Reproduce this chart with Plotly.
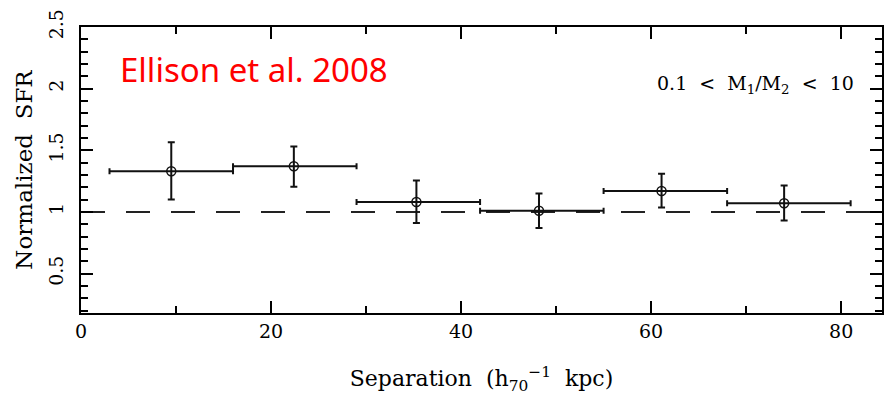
import plotly.graph_objects as go

# Data
sep_center = [9.5, 22.4, 35.3, 48.2, 61.1, 74.0]
bin_low = [3.0, 16.0, 29.0, 42.0, 55.0, 68.0]
bin_high = [16.0, 29.0, 42.0, 55.0, 68.0, 81.0]
sfr = [1.33, 1.37, 1.08, 1.01, 1.17, 1.07]
sfr_err_up = [0.235, 0.16, 0.175, 0.14, 0.14, 0.145]
sfr_err_down = [0.23, 0.165, 0.17, 0.14, 0.135, 0.14]
ref_level = [1.0, 1.0]
ref_x = [0, 84.3]

err_x_plus = [h - c for h, c in zip(bin_high, sep_center)]
err_x_minus = [c - l for c, l in zip(sep_center, bin_low)]

TICKFONT = "DejaVu Serif, Liberation Serif, serif"
TITLEFONT = "DejaVu Serif, Liberation Serif, serif"
NB = "\u00a0"

fig = go.Figure()
fig.add_trace(go.Scatter(
    x=ref_x, y=ref_level, mode="lines",
    line=dict(color="#222", width=2, dash="24px,21px"),
    hoverinfo="skip", showlegend=False))
fig.add_trace(go.Scatter(
    x=sep_center, y=sfr, mode="markers",
    marker=dict(symbol="circle-open", size=9, color="#111", line=dict(width=1.5)),
    error_x=dict(type="data", symmetric=False, array=err_x_plus, arrayminus=err_x_minus,
                 color="#111", thickness=2, width=3),
    error_y=dict(type="data", symmetric=False, array=sfr_err_up, arrayminus=sfr_err_down,
                 color="#111", thickness=2, width=3.5),
    showlegend=False))

fig.add_annotation(text="Ellison et al. 2008", xref="paper", yref="paper",
                   x=0.046, y=0.85, xanchor="left", yanchor="middle", showarrow=False,
                   font=dict(family="Comic Sans MS, Noto Sans, sans-serif", size=33, color="red"))
fig.add_annotation(text=f"0.1{NB} &lt;{NB} M<sub>1</sub>/M<sub>2</sub>{NB} &lt;{NB} 10",
                   xref="paper", yref="paper",
                   x=0.967, y=0.80, xanchor="right", yanchor="middle", showarrow=False,
                   font=dict(family=TITLEFONT, size=19, color="black"))

axis_common = dict(
    showline=True, linewidth=2, linecolor="black", mirror="ticks",
    ticks="inside", tickcolor="black", tickwidth=1.5,
    showgrid=False, zeroline=False,
    tickfont=dict(family=TICKFONT, size=19, color="black"),
)

fig.update_xaxes(range=[0, 84.3], tickmode="linear", tick0=0, dtick=20, ticklen=12,
                 minor=dict(ticks="inside", dtick=10, ticklen=7, tickcolor="black", tickwidth=1.5),
                 title=dict(text=f"Separation{NB} (h<sub>70</sub><sup>−1</sup>{NB} kpc)",
                            font=dict(family=TITLEFONT, size=22, color="black"), standoff=30),
                 **axis_common)
fig.update_yaxes(range=[0.18, 2.5], tickmode="linear", tick0=0.5, dtick=0.5, ticklen=12,
                 tickangle=-90, ticklabelstandoff=8,
                 minor=dict(ticks="inside", dtick=0.1, ticklen=7, tickcolor="black", tickwidth=1.5),
                 title=dict(text=f"Normalized{NB} SFR",
                            font=dict(family=TITLEFONT, size=23, color="black"), standoff=6),
                 **axis_common)

fig.update_layout(
    width=885, height=398,
    margin=dict(l=81, r=1, t=27, b=85),
    paper_bgcolor="white", plot_bgcolor="white",
)

fig.write_html("out.html")
